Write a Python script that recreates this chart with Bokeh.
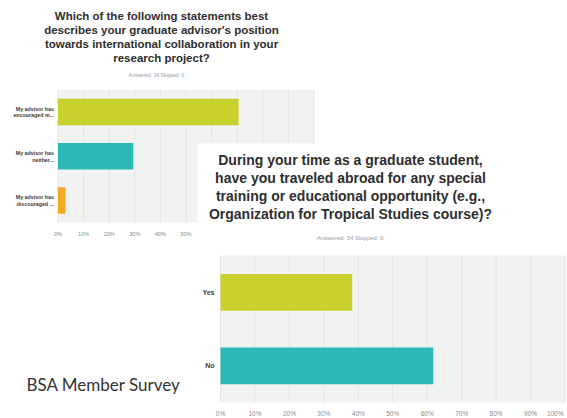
from bokeh.plotting import figure
from bokeh.models import Range1d, ColumnDataSource
from bokeh.core.properties import value
from bokeh.embed import file_html
from bokeh.resources import INLINE

# ---------------- data ----------------
q1_title = ["Which of the following statements best",
            "describes your graduate advisor's position",
            "towards international collaboration in your",
            "research project?"]
q1_sub = "Answered: 34    Skipped: 0"
q1_categories = ["My advisor has\nencouraged m...", "My advisor has\nneither...", "My advisor has\ndiscouraged ..."]
q1_values = [70.59, 29.41, 2.94]
q1_colors = ["#c9d22c", "#2bb8b6", "#f4a823"]

q2_title = ["During your time as a graduate student,",
            "have you traveled abroad for any special",
            "training or educational opportunity (e.g.,",
            "Organization for Tropical Studies course)?"]
q2_sub = "Answered: 34    Skipped: 0"
q2_categories = ["Yes", "No"]
q2_values = [38.24, 61.76]
q2_colors = ["#c9d22c", "#2bb8b6"]

tick_values = [0, 10, 20, 30, 40, 50, 60, 70, 80, 90, 100]
tick_labels = ["0%", "10%", "20%", "30%", "40%", "50%", "60%", "70%", "80%", "90%", "100%"]

caption = "BSA Member Survey"

# ---------------- layout (page pixel geometry) ----------------
W, H = 567, 418
L, R, T, B = 0, W, 0, H

p = figure(width=W, height=H, x_range=Range1d(L, R), y_range=Range1d(B, T),
           output_backend="svg", toolbar_location=None,
           x_axis_type=None, y_axis_type=None, min_border=0,
           min_border_left=0, min_border_right=0, min_border_top=0, min_border_bottom=0,
           outline_line_color=None, background_fill_color="white",
           border_fill_color="white")


def xr(p0, s):
    return Range1d(start=(L - p0) / s, end=(R - p0) / s)


def yr(p0, s):
    return Range1d(start=(B - p0) / s, end=(T - p0) / s)


# chart 1 scales: 0% at x=57.5, 2.56 px per %, category 0 at y=111.5, 44.2 px per band
p.extra_x_ranges["x1"] = xr(57.5, 2.56)
p.extra_y_ranges["y1"] = yr(111.5, 44.2)
# chart 2 scales
p.extra_x_ranges["x2"] = xr(220.0, 3.445)
p.extra_y_ranges["y2"] = yr(291.75, 73.5)

FONT = value("Liberation Sans")
GRID_BG = "#f1f2f2"
GRID_LINE = "#e3e5e5"
TICK_COL = "#8c8c8c"
tick_off = {"x1": 11, "x2": 11}


def draw_chart(xn, yn, cats, vals, cols, bar_h, tick_fs, cat_fs, cat_x_off, last_clamp=None):
    n = len(cats)
    idx = list(range(n))
    # plot background
    p.quad(left=[0], right=[100], top=[-0.5], bottom=[n - 0.5], fill_color=GRID_BG,
           line_color=None, x_range_name=xn, y_range_name=yn)
    # grid lines
    p.segment(x0=tick_values, x1=tick_values, y0=[-0.5] * len(tick_values),
              y1=[n - 0.5] * len(tick_values), line_color=GRID_LINE, line_width=1,
              x_range_name=xn, y_range_name=yn)
    # bars
    src = ColumnDataSource(dict(y=idx, v=vals, c=cols, cat=cats, zero=[0] * n))
    p.hbar(y="y", left="zero", right="v", height=bar_h, fill_color="c", line_color=None,
           source=src, x_range_name=xn, y_range_name=yn)
    # category labels
    p.text(x="zero", y="y", text="cat", source=src, text_align="right", text_baseline="middle",
           x_offset=cat_x_off, text_font=FONT, text_font_style="bold", text_font_size=cat_fs,
           text_color="#3a3a3a", text_line_height=1.15, x_range_name=xn, y_range_name=yn)
    # tick labels
    tv, tl = tick_values, tick_labels
    if last_clamp is not None:
        tv, tl = tick_values[:-1], tick_labels[:-1]
    p.text(x=tv, y=[n - 0.5] * len(tv), text=tl, text_align="center", text_baseline="middle",
           y_offset=tick_off[xn], text_font=FONT, text_font_size=tick_fs, text_color=TICK_COL,
           x_range_name=xn, y_range_name=yn)
    if last_clamp is not None:
        p.text(x=[last_clamp], y=[n - 0.5], text=[tick_labels[-1]], text_align="right",
               text_baseline="middle", y_offset=tick_off[xn], text_font=FONT,
               text_font_size=tick_fs, text_color=TICK_COL, y_range_name=yn)


# ---- chart 1 ----
for i, line in enumerate(q1_title):
    p.text(x=[161], y=[15 + 14 * i], text=[line], text_align="center", text_baseline="middle",
           text_font=FONT, text_font_style="bold", text_font_size="11.5px", text_color="#2e2e2e")
p.text(x=[158], y=[74], text=[q1_sub], text_align="center", text_baseline="middle",
       text_font=FONT, text_font_size="5px", text_color="#9a9a9a")
draw_chart("x1", "y1", q1_categories, q1_values, q1_colors, 0.6, "5.5px", "5.3px", -4)

# ---- white card of chart 2 ----
p.quad(left=[197], right=[R], top=[143], bottom=[B], fill_color="white", line_color=None)

# ---- chart 2 ----
for i, line in enumerate(q2_title):
    p.text(x=[350], y=[159 + 18 * i], text=[line], text_align="center", text_baseline="middle",
           text_font=FONT, text_font_style="bold", text_font_size="14px", text_color="#2e2e2e")
p.text(x=[352], y=[237], text=[q2_sub], text_align="center", text_baseline="middle",
       text_font=FONT, text_font_size="6px", text_color="#9a9a9a")
draw_chart("x2", "y2", q2_categories, q2_values, q2_colors, 0.5, "6.5px", "7px", -6,
           last_clamp=R - 4)

# ---- caption ----
p.text(x=[26], y=[384], text=[caption], text_align="left", text_baseline="middle",
       text_font=value("Lato"), text_font_size="17px", text_color="#333333")

open("out.html", "w").write(file_html(p, INLINE))
